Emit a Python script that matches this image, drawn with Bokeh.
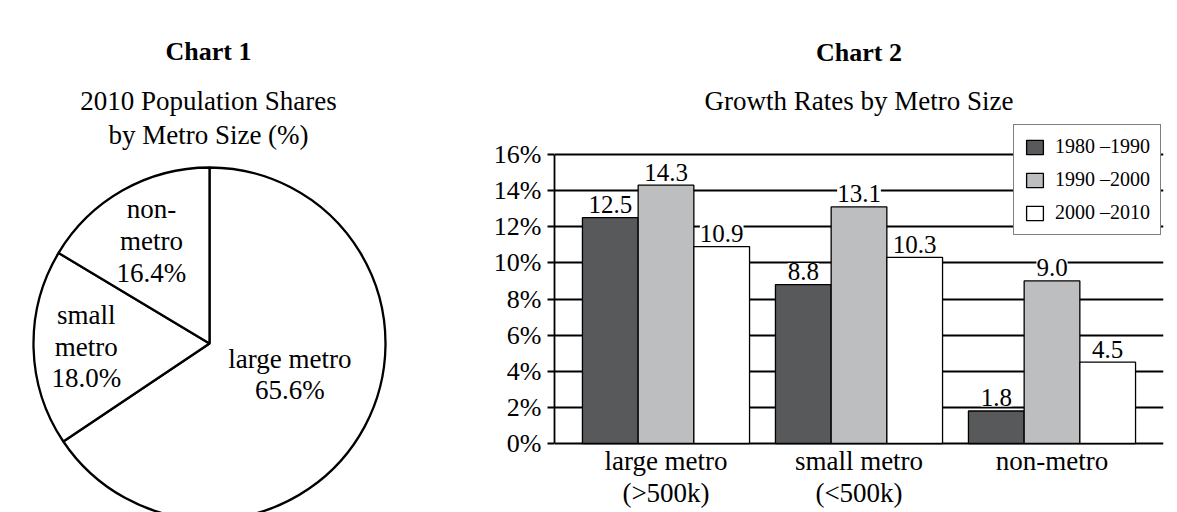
import math
from bokeh.plotting import figure
from bokeh.layouts import row
from bokeh.models import Range1d, FixedTicker, Legend, LegendItem
from bokeh.core.properties import value
from bokeh.embed import file_html
from bokeh.resources import INLINE

FONT = "Liberation Serif"

# ---------------- data ----------------
# Chart 1: 2010 population shares by metro size (%)
pie_names = ["large metro", "small metro", "non-metro"]
pie_label_text = ["large metro\n65.6%", "small\nmetro\n18.0%", "non-\nmetro\n16.4%"]
pie_shares = [65.6, 18.0, 16.4]

# Chart 2: growth rates by metro size (%)
categories = ["large metro\n(>500k)", "small metro\n(<500k)", "non-metro"]
periods = ["1980 \u20131990", "1990 \u20132000", "2000 \u20132010"]
growth_1980_1990 = [12.5, 8.8, 1.8]
growth_1990_2000 = [14.3, 13.1, 9.0]
growth_2000_2010 = [10.9, 10.3, 4.5]
y_ticks = [0, 2, 4, 6, 8, 10, 12, 14, 16]
y_tick_labels = ["0%", "2%", "4%", "6%", "8%", "10%", "12%", "14%", "16%"]

# ---------------- styling ----------------
DARK = "#58595b"
LIGHT = "#bcbec0"
WHITE = "#ffffff"
series_colors = [DARK, LIGHT, WHITE]
BFIX = 8  # px: lift "alphabetic" anchored text

H = 512
W1 = 460
W2 = 1177 - W1

# ---------------- Chart 1 (pie) ----------------
p1 = figure(width=W1, height=H, x_range=Range1d(0, W1), y_range=Range1d(0, H),
            x_axis_type=None, y_axis_type=None, output_backend="svg",
            toolbar_location=None, min_border=0)
p1.grid.visible = False
p1.outline_line_color = None

cx, cy, R = 209, H - 343, 176
label_frac = [0.49, 0.70, 0.67]
label_turn = [-7.0, 0.0, 0.0]
cum = 0.0
starts, ends, lx, ly = [], [], [], []
for share, frac, turn in zip(pie_shares, label_frac, label_turn):
    a0 = cum / 100.0 * 360.0          # clockwise from 12 o'clock
    a1 = (cum + share) / 100.0 * 360.0
    starts.append(math.radians(90 - a1))
    ends.append(math.radians(90 - a0))
    mid = math.radians((a0 + a1) / 2.0 + turn)
    lx.append(cx + frac * R * math.sin(mid))
    ly.append(cy + frac * R * math.cos(mid))
    cum += share

p1.wedge(x=cx, y=cy, radius=R, start_angle=starts, end_angle=ends,
         direction="anticlock", fill_color="white", line_color="black", line_width=2.3)
p1.text(x=lx, y=ly, text=pie_label_text, text_align="center", text_baseline="middle",
        text_font=value(FONT), text_font_size="27px", text_line_height=1.055, text_color="black")

p1.text(x=[208], y=[H - 59 + BFIX], text=["Chart 1"], text_align="center",
        text_baseline="alphabetic", text_font=value(FONT), text_font_size="26px",
        text_font_style="bold", text_color="black")
p1.text(x=[208, 208], y=[H - 108 + BFIX, H - 142 + BFIX],
        text=["2010 Population Shares", "by Metro Size (%)"],
        text_align="center", text_baseline="alphabetic",
        text_font=value(FONT), text_font_size="27px", text_color="black")

# ---------------- Chart 2 (bars) ----------------
frame_left, frame_right = 554, 1163
zero_px, top_px = 443, 154          # screen rows of 0% and 16%
px_per_unit = (zero_px - top_px) / 16.0


def py_to_y(py):
    return (zero_px - py) / px_per_unit


pitch = 193.0
frame_w = frame_right - frame_left
half = frame_w / pitch / 2.0
center_x = (len(categories) - 1) / 2.0

p2 = figure(width=W2, height=H,
            x_range=Range1d(center_x - half, center_x + half),
            y_range=Range1d(py_to_y(H), py_to_y(0)),
            x_axis_type=None, output_backend="svg", toolbar_location=None,
            min_border_left=frame_left - W1, min_border_right=1177 - frame_right,
            min_border_top=0, min_border_bottom=0)
p2.outline_line_color = None

BAR_W = 55.7 / pitch
series = [growth_1980_1990, growth_1990_2000, growth_2000_2010]
offsets = [-BAR_W, 0.0, BAR_W]
renderers = []
for vals, off, col in zip(series, offsets, series_colors):
    xs = [i + off for i in range(len(categories))]
    r = p2.vbar(x=xs, top=vals, bottom=0, width=BAR_W, fill_color=col,
                line_color="black", line_width=1.3)
    renderers.append(r)
for vals, off in zip(series, offsets):
    xs = [i + off for i in range(len(categories))]
    p2.text(x=xs, y=vals, text=[f"{v:.1f}" for v in vals], y_offset=-5 - BFIX,
            text_align="center", text_baseline="alphabetic",
            text_font=value(FONT), text_font_size="25px", text_color="black",
            background_fill_color="white")

# category labels under the bars
p2.text(x=list(range(len(categories))), y=[0] * len(categories), text=categories,
        y_offset=2, text_align="center", text_baseline="top", text_line_height=1.07,
        text_font=value(FONT), text_font_size="27px", text_color="black")

# titles
p2.text(x=[center_x], y=[py_to_y(60 - BFIX)], text=["Chart 2"], text_align="center",
        text_baseline="alphabetic", text_font=value(FONT), text_font_size="26px",
        text_font_style="bold", text_color="black")
p2.text(x=[center_x], y=[py_to_y(108 - BFIX)], text=["Growth Rates by Metro Size"],
        text_align="center", text_baseline="alphabetic", text_font=value(FONT),
        text_font_size="27px", text_color="black")

yt = FixedTicker(ticks=y_ticks)
p2.yaxis.ticker = yt
p2.yaxis.major_label_overrides = {t: s for t, s in zip(y_ticks, y_tick_labels)}
p2.yaxis.bounds = (y_ticks[0], y_ticks[-1])
p2.yaxis.major_tick_out = 7
p2.yaxis.major_tick_in = 0
p2.yaxis.major_tick_line_width = 2
p2.yaxis.major_tick_line_color = "black"
p2.yaxis.minor_tick_line_color = None
p2.yaxis.axis_line_width = 1.8
p2.yaxis.axis_line_color = "black"
p2.yaxis.major_label_standoff = 6
p2.yaxis.major_label_text_font = FONT
p2.yaxis.major_label_text_font_size = "26px"
p2.yaxis.major_label_text_color = "black"

p2.xgrid.visible = False
p2.ygrid.ticker = yt
p2.ygrid.grid_line_color = "black"
p2.ygrid.grid_line_width = 1.8

legend = Legend(items=[LegendItem(label=lab, renderers=[r]) for lab, r in zip(periods, renderers)],
                location=(1013 - frame_left, H - 235), margin=0, padding=10, spacing=10,
                glyph_width=21, glyph_height=18, label_height=18, label_standoff=10,
                label_text_font=FONT, label_text_font_size="20px", label_text_color="black",
                border_line_color="black", border_line_width=1.5,
                background_fill_color="white", background_fill_alpha=1.0)
p2.add_layout(legend)

layout = row(p1, p2)
open("out.html", "w").write(file_html(layout, INLINE))
